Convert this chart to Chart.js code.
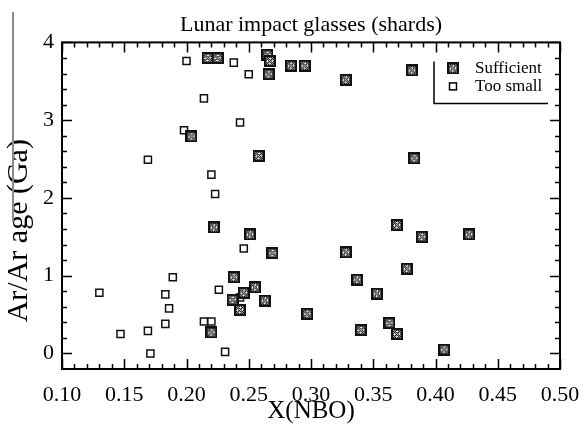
<!DOCTYPE html>
<html>
<head>
<meta charset="utf-8">
<script src="https://cdn.jsdelivr.net/npm/chart.js@4/dist/chart.umd.min.js"></script>
<style>
html, body { margin: 0; padding: 0; background: #fff; }
#wrap { width: 584px; height: 426px; }
</style>
</head>
<body>
<div id="wrap"><canvas id="chart"></canvas></div>
<script>
// chart text
var chartTitle = 'Lunar impact glasses (shards)'
var xTitle = 'X(NBO)'
var yTitle = 'Ar/Ar age (Ga)'
var seriesNames = ['Sufficient', 'Too small']

// tick labels
var xTicks = [0.10, 0.15, 0.20, 0.25, 0.30, 0.35, 0.40, 0.45, 0.50]
var yTicks = [0, 1, 2, 3, 4]

// shards with enough gas for an age (hatched squares)
var sufficientX = [0.217, 0.225, 0.265, 0.267, 0.266, 0.284, 0.295, 0.328, 0.381,
    0.204, 0.258, 0.383, 0.222, 0.251, 0.269, 0.369, 0.389, 0.427, 0.328, 0.377,
    0.238, 0.337, 0.255, 0.246, 0.353, 0.237, 0.263, 0.243, 0.297, 0.363, 0.340,
    0.369, 0.220, 0.407]
var sufficientY = [3.80, 3.80, 3.84, 3.76, 3.59, 3.70, 3.70, 3.52, 3.64,
    2.79, 2.54, 2.51, 1.62, 1.53, 1.29, 1.65, 1.50, 1.53, 1.30, 1.09,
    0.98, 0.95, 0.85, 0.78, 0.77, 0.69, 0.68, 0.56, 0.51, 0.39, 0.30,
    0.25, 0.27, 0.05]

// shards too small (open squares)
var smallX = [0.200, 0.238, 0.250, 0.214, 0.243, 0.198, 0.169, 0.220, 0.223,
    0.246, 0.189, 0.226, 0.130, 0.183, 0.243, 0.186, 0.183, 0.214, 0.220,
    0.147, 0.169, 0.231, 0.171]
var smallY = [3.76, 3.74, 3.59, 3.28, 2.97, 2.87, 2.49, 2.30, 2.05,
    1.35, 0.98, 0.82, 0.78, 0.76, 0.72, 0.58, 0.38, 0.41, 0.41,
    0.25, 0.29, 0.02, 0.00]

var serif = 'Liberation Serif'

function toPoints(xs, ys) {
    return xs.map((x, i) => ({x: x, y: ys[i]}))
}

// hatched marker, drawn once on a small canvas
function hatchMarker() {
    var c = document.createElement('canvas')
    c.width = 12
    c.height = 12
    var g = c.getContext('2d')
    g.fillStyle = '#111'
    g.fillRect(0, 0, 12, 12)
    for (var i = 2; i < 10; i++) {
        for (var j = 2; j < 10; j++) {
            if ((i + j) % 2 == 0) {
                g.fillStyle = '#a8a8a8'
                g.fillRect(i, j, 1, 1)
            }
        }
    }
    g.fillStyle = '#fff'
    var dots = [[5, 3], [6, 3], [3, 5], [3, 6], [8, 5], [8, 6], [5, 8], [6, 8], [5, 5], [6, 6]]
    dots.forEach(d => g.fillRect(d[0], d[1], 1, 1))
    return c
}
var hatched = hatchMarker()

// frame with inward ticks on all four sides
var frameTicks = {
    id: 'frameTicks',
    afterDraw(chart) {
        var a = chart.chartArea, sx = chart.scales.x, sy = chart.scales.y, ctx = chart.ctx
        ctx.save()
        ctx.strokeStyle = '#000'
        ctx.lineWidth = 1.5
        for (var i = 10; i <= 50; i++) {
            var px = Math.round(sx.getPixelForValue(i / 100)) + 0.5
            var len = i % 5 == 0 ? 10 : 5
            ctx.beginPath()
            ctx.moveTo(px, a.bottom); ctx.lineTo(px, a.bottom - len)
            ctx.moveTo(px, a.top); ctx.lineTo(px, a.top + len)
            ctx.stroke()
        }
        for (var k = 0; k <= 20; k++) {
            var py = Math.round(sy.getPixelForValue(k * 0.2)) + 0.5
            var l = k % 5 == 0 ? 10 : 5
            ctx.beginPath()
            ctx.moveTo(a.left, py); ctx.lineTo(a.left + l, py)
            ctx.moveTo(a.right, py); ctx.lineTo(a.right - l, py)
            ctx.stroke()
        }
        ctx.lineWidth = 2
        ctx.strokeRect(a.left, a.top, a.right - a.left, a.bottom - a.top)

        // y axis title, rotated
        ctx.fillStyle = '#000'
        ctx.font = '30px "' + serif + '"'
        ctx.textAlign = 'center'
        ctx.textBaseline = 'middle'
        ctx.translate(a.left - 43, (a.top + a.bottom) / 2 + 25)
        ctx.rotate(-Math.PI / 2)
        ctx.fillText(yTitle, 0, 0)
        ctx.restore()

        // grey scan line left of the y title
        ctx.save()
        ctx.strokeStyle = '#8a8a8a'
        ctx.lineWidth = 2
        ctx.beginPath()
        ctx.moveTo(13, 12); ctx.lineTo(13, 222)
        ctx.stroke()
        ctx.restore()
    }
}

// legend box in the upper right corner
var boxLegend = {
    id: 'boxLegend',
    afterDraw(chart) {
        var a = chart.chartArea, ctx = chart.ctx
        var left = a.right - 126, bottom = a.top + 61
        ctx.save()
        ctx.strokeStyle = '#000'
        ctx.lineWidth = 1.5
        ctx.beginPath()
        ctx.moveTo(left, a.top + 19); ctx.lineTo(left, bottom); ctx.lineTo(a.right - 12, bottom)
        ctx.stroke()
        ctx.drawImage(hatched, left + 13, a.top + 20)
        ctx.fillStyle = '#fff'
        ctx.lineWidth = 1.5
        ctx.fillRect(left + 15.5, a.top + 40.5, 7, 7)
        ctx.strokeRect(left + 15.5, a.top + 40.5, 7, 7)
        ctx.fillStyle = '#000'
        ctx.font = '17px "' + serif + '"'
        ctx.textAlign = 'left'
        ctx.textBaseline = 'middle'
        ctx.fillText(seriesNames[0], left + 41, a.top + 26)
        ctx.fillText(seriesNames[1], left + 41, a.top + 44)
        ctx.restore()
    }
}

var ctx = document.getElementById('chart').getContext('2d')
var chart = new Chart(ctx, {
    type: 'scatter',
    data: {
        datasets: [{
            label: seriesNames[0],
            data: toPoints(sufficientX, sufficientY),
            pointStyle: hatched,
            pointRadius: 6
        }, {
            label: seriesNames[1],
            data: toPoints(smallX, smallY),
            pointStyle: 'rect',
            pointRadius: 5,
            backgroundColor: '#fff',
            borderColor: '#111',
            borderWidth: 1.5
        }]
    },
    options: {
        responsive: true,
        maintainAspectRatio: false,
        animation: false,
        events: [],
        layout: {
            padding: {left: 0, right: 24, top: 0, bottom: 0}
        },
        plugins: {
            legend: {display: false},
            tooltip: {enabled: false},
            title: {
                display: true,
                fullSize: false,
                text: chartTitle,
                color: '#000',
                font: {family: serif, size: 22, weight: 'normal'},
                padding: {top: 12, bottom: 4}
            }
        },
        scales: {
            x: {
                type: 'linear',
                min: 0.10,
                max: 0.50,
                afterBuildTicks: s => { s.ticks = xTicks.map(v => ({value: v})) },
                afterFit: s => { s.height = 57; s.paddingLeft = 0; s.paddingRight = 0 },
                grid: {display: false, drawTicks: false},
                border: {display: false},
                ticks: {
                    color: '#000',
                    font: {family: serif, size: 22},
                    padding: 13,
                    autoSkip: false,
                    maxRotation: 0,
                    callback: v => v.toFixed(2)
                },
                title: {
                    display: true,
                    text: xTitle,
                    color: '#000',
                    font: {family: serif, size: 25},
                    padding: {top: 0, bottom: 0}
                }
            },
            y: {
                type: 'linear',
                min: -0.2,
                max: 4,
                afterBuildTicks: s => { s.ticks = yTicks.map(v => ({value: v})) },
                afterFit: s => { s.width = 62; s.paddingTop = 0; s.paddingBottom = 0 },
                grid: {display: false, drawTicks: false},
                border: {display: false},
                ticks: {
                    color: '#000',
                    font: {family: serif, size: 22},
                    padding: 8,
                    autoSkip: false
                }
            }
        }
    },
    plugins: [frameTicks, boxLegend]
})
</script>
</body>
</html>
